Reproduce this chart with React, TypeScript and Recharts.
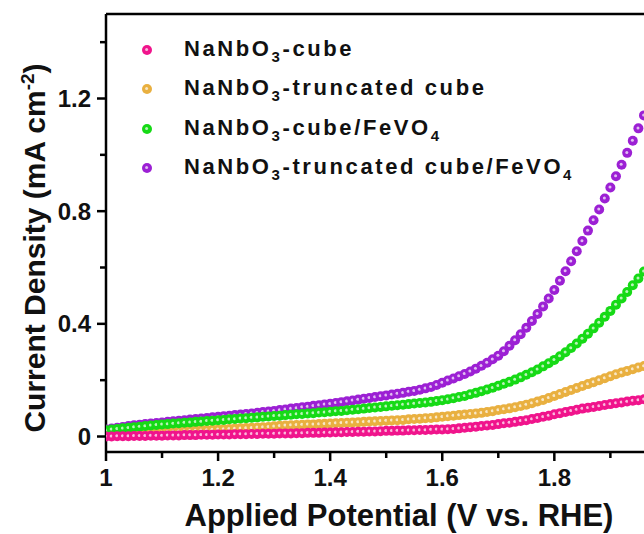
import { ScatterChart, Scatter, XAxis, YAxis, ReferenceLine, Label } from 'recharts'

// applied potential (V vs. RHE)
const potential = [
  1.00, 1.01, 1.02, 1.03, 1.04, 1.05, 1.06, 1.07, 1.08, 1.09,
  1.10, 1.11, 1.12, 1.13, 1.14, 1.15, 1.16, 1.17, 1.18, 1.19,
  1.20, 1.21, 1.22, 1.23, 1.24, 1.25, 1.26, 1.27, 1.28, 1.29,
  1.30, 1.31, 1.32, 1.33, 1.34, 1.35, 1.36, 1.37, 1.38, 1.39,
  1.40, 1.41, 1.42, 1.43, 1.44, 1.45, 1.46, 1.47, 1.48, 1.49,
  1.50, 1.51, 1.52, 1.53, 1.54, 1.55, 1.56, 1.57, 1.58, 1.59,
  1.60, 1.61, 1.62, 1.63, 1.64, 1.65, 1.66, 1.67, 1.68, 1.69,
  1.70, 1.71, 1.72, 1.73, 1.74, 1.75, 1.76, 1.77, 1.78, 1.79,
  1.80, 1.81, 1.82, 1.83, 1.84, 1.85, 1.86, 1.87, 1.88, 1.89,
  1.90, 1.91, 1.92, 1.93, 1.94, 1.95, 1.96,
]

// current density (mA cm-2)
const cube = [
  0.000, 0.000, 0.001, 0.001, 0.001, 0.002, 0.002, 0.002, 0.003, 0.003,
  0.003, 0.004, 0.004, 0.004, 0.005, 0.005, 0.005, 0.006, 0.006, 0.006,
  0.007, 0.007, 0.007, 0.008, 0.008, 0.008, 0.009, 0.009, 0.010, 0.010,
  0.010, 0.011, 0.011, 0.011, 0.012, 0.012, 0.013, 0.013, 0.013, 0.014,
  0.014, 0.015, 0.015, 0.016, 0.016, 0.017, 0.017, 0.018, 0.018, 0.019,
  0.020, 0.020, 0.021, 0.021, 0.022, 0.022, 0.023, 0.023, 0.024, 0.025,
  0.025, 0.026, 0.027, 0.029, 0.031, 0.033, 0.035, 0.037, 0.039, 0.041,
  0.044, 0.047, 0.049, 0.052, 0.055, 0.058, 0.062, 0.066, 0.070, 0.074,
  0.079, 0.083, 0.087, 0.091, 0.095, 0.099, 0.102, 0.105, 0.108, 0.112,
  0.115, 0.118, 0.121, 0.124, 0.127, 0.129, 0.132,
]

const truncCube = [
  0.004, 0.006, 0.007, 0.008, 0.009, 0.010, 0.011, 0.012, 0.013, 0.014,
  0.015, 0.016, 0.017, 0.018, 0.019, 0.020, 0.021, 0.022, 0.023, 0.024,
  0.025, 0.026, 0.027, 0.028, 0.029, 0.030, 0.031, 0.032, 0.033, 0.034,
  0.036, 0.038, 0.039, 0.040, 0.041, 0.042, 0.043, 0.043, 0.044, 0.045,
  0.046, 0.047, 0.048, 0.049, 0.050, 0.051, 0.052, 0.053, 0.054, 0.055,
  0.056, 0.057, 0.058, 0.059, 0.061, 0.062, 0.063, 0.065, 0.066, 0.068,
  0.070, 0.072, 0.074, 0.076, 0.078, 0.080, 0.082, 0.084, 0.087, 0.090,
  0.094, 0.097, 0.100, 0.104, 0.108, 0.113, 0.118, 0.124, 0.130, 0.137,
  0.144, 0.151, 0.158, 0.165, 0.172, 0.179, 0.186, 0.193, 0.200, 0.207,
  0.214, 0.221, 0.227, 0.233, 0.239, 0.245, 0.250,
]

const cubeFeVO4 = [
  0.022, 0.025, 0.027, 0.029, 0.031, 0.033, 0.035, 0.037, 0.039, 0.041,
  0.043, 0.044, 0.046, 0.047, 0.049, 0.050, 0.052, 0.053, 0.055, 0.056,
  0.058, 0.059, 0.061, 0.062, 0.064, 0.065, 0.067, 0.068, 0.070, 0.071,
  0.073, 0.074, 0.076, 0.077, 0.079, 0.080, 0.082, 0.083, 0.085, 0.086,
  0.088, 0.090, 0.091, 0.093, 0.095, 0.097, 0.099, 0.101, 0.103, 0.105,
  0.107, 0.109, 0.111, 0.113, 0.115, 0.117, 0.119, 0.121, 0.123, 0.126,
  0.129, 0.132, 0.136, 0.140, 0.144, 0.150, 0.155, 0.161, 0.167, 0.173,
  0.180, 0.187, 0.194, 0.202, 0.210, 0.219, 0.228, 0.238, 0.249, 0.260,
  0.272, 0.285, 0.299, 0.314, 0.330, 0.347, 0.365, 0.384, 0.404, 0.425,
  0.446, 0.468, 0.490, 0.513, 0.537, 0.561, 0.586,
]

const truncCubeFeVO4 = [
  0.025, 0.028, 0.031, 0.034, 0.037, 0.040, 0.042, 0.044, 0.046, 0.048,
  0.050, 0.052, 0.054, 0.056, 0.058, 0.060, 0.062, 0.064, 0.066, 0.068,
  0.070, 0.072, 0.074, 0.076, 0.078, 0.080, 0.082, 0.084, 0.087, 0.089,
  0.091, 0.094, 0.096, 0.099, 0.101, 0.104, 0.106, 0.109, 0.111, 0.114,
  0.116, 0.119, 0.122, 0.125, 0.128, 0.131, 0.134, 0.137, 0.140, 0.143,
  0.146, 0.149, 0.152, 0.155, 0.159, 0.162, 0.166, 0.171, 0.176, 0.183,
  0.191, 0.199, 0.206, 0.214, 0.222, 0.231, 0.241, 0.251, 0.262, 0.274,
  0.287, 0.303, 0.322, 0.342, 0.363, 0.386, 0.410, 0.435, 0.462, 0.490,
  0.520, 0.553, 0.587, 0.622, 0.658, 0.694, 0.731, 0.768, 0.806, 0.845,
  0.884, 0.924, 0.965, 1.007, 1.050, 1.094, 1.140,
]

const xTicks = [1.0, 1.1, 1.2, 1.3, 1.4, 1.5, 1.6, 1.7, 1.8, 1.9]
const yTicks = [0, 0.2, 0.4, 0.6, 0.8, 1.0, 1.2, 1.4]

const colors = {
  cube: '#F0148C',
  truncCube: '#E9B040',
  cubeFeVO4: '#16DA16',
  truncCubeFeVO4: '#9C20D4',
}

// legend order as in the figure, label split for the subscripts
const legendItems = [
  { color: colors.cube, parts: [['NaNbO', ''], ['3', 'sub'], ['-cube', '']] },
  { color: colors.truncCube, parts: [['NaNbO', ''], ['3', 'sub'], ['-truncated cube', '']] },
  { color: colors.cubeFeVO4, parts: [['NaNbO', ''], ['3', 'sub'], ['-cube/FeVO', ''], ['4', 'sub']] },
  { color: colors.truncCubeFeVO4, parts: [['NaNbO', ''], ['3', 'sub'], ['-truncated cube/FeVO', ''], ['4', 'sub']] },
]

const FONT = '"Liberation Sans", Arial, sans-serif'

const toPoints = (vals: number[]) => potential.map((x, i) => ({ x, y: vals[i] }))

const Dot = (color: string) => (props: any) => {
  const { cx, cy } = props
  if (cx == null || cy == null) return <g />
  return (
    <g>
      <circle cx={cx} cy={cy} r={5} fill={color} />
      <circle cx={cx - 0.4} cy={cy - 0.4} r={1.5} fill="#fff" fillOpacity={0.7} />
    </g>
  )
}

const XTick = (props: any) => {
  const { x, y, payload } = props
  const v = payload.value
  const major = Math.round(v * 10) % 2 === 0
  return (
    <g>
      <line x1={x} x2={x} y1={y} y2={y + (major ? 9 : 6)} stroke="#000" strokeWidth={2.5} />
      {major && (
        <text x={x} y={y + 34} textAnchor="middle" fontFamily={FONT} fontWeight="bold" fontSize={24} fill="#111">
          {v === 1 ? '1' : v.toFixed(1)}
        </text>
      )}
    </g>
  )
}

const YTick = (props: any) => {
  const { x, y, payload } = props
  const v = payload.value
  const major = Math.round(v * 10) % 4 === 0
  return (
    <g>
      <line x1={x} x2={x - (major ? 9 : 6)} y1={y} y2={y} stroke="#000" strokeWidth={2.5} />
      {major && (
        <text x={x - 15} y={y + 8.5} textAnchor="end" fontFamily={FONT} fontWeight="bold" fontSize={24} fill="#111">
          {v === 0 ? '0' : v.toFixed(1)}
        </text>
      )}
    </g>
  )
}

const LegendBox = () => (
  <div
    style={{
      position: 'absolute',
      left: 141,
      top: 30,
      fontFamily: FONT,
      fontWeight: 'bold',
      fontSize: 22,
      color: '#111',
      pointerEvents: 'none',
    }}
  >
    {legendItems.map((item, i) => (
      <div key={i} style={{ display: 'flex', alignItems: 'center', height: 39.5, lineHeight: '22px' }}>
        <svg width={12} height={12} style={{ marginRight: 31 }}>
          <circle cx={6} cy={6} r={5} fill={item.color} />
          <circle cx={5.6} cy={5.6} r={1.5} fill="#fff" fillOpacity={0.7} />
        </svg>
        <span style={{ letterSpacing: 2.6, whiteSpace: 'nowrap' }}>
          {item.parts.map(([t, kind], j) =>
            kind === 'sub' ? (
              <span key={j} style={{ fontSize: 15, position: 'relative', top: 6 }}>{t}</span>
            ) : (
              <span key={j}>{t}</span>
            )
          )}
        </span>
      </div>
    ))}
  </div>
)

const YTitle = () => (
  <text
    x={45}
    y={248}
    transform="rotate(-90 45 248)"
    textAnchor="middle"
    fontFamily={FONT}
    fontWeight="bold"
    fontSize={30}
    fill="#111"
  >
    Current Density (mA cm
    <tspan fontSize={19} dy={-11}>-2</tspan>
    <tspan dy={11}>)</tspan>
  </text>
)

const XTitle = () => (
  <text x={399} y={526} textAnchor="middle" fontFamily={FONT} fontWeight="bold" fontSize={31} fill="#111">
    Applied Potential (V vs. RHE)
  </text>
)

export default function App() {
  return (
    <div style={{ position: 'absolute', left: 0, top: 0, width: 644, height: 534, background: '#fff', overflow: 'hidden' }}>
      <ScatterChart width={644} height={534} margin={{ top: 14, right: 0, bottom: 0, left: 0 }}>
        <XAxis
          type="number"
          dataKey="x"
          domain={[1, 1.96]}
          allowDataOverflow
          ticks={xTicks}
          interval={0}
          height={82}
          tickSize={0}
          tickMargin={0}
          tickLine={false}
          axisLine={{ stroke: '#000', strokeWidth: 2.5 }}
          tick={XTick}
        >
          <Label content={XTitle} />
        </XAxis>
        <YAxis
          type="number"
          dataKey="y"
          domain={[-0.055, 1.5]}
          allowDataOverflow
          ticks={yTicks}
          interval={0}
          width={106}
          tickSize={0}
          tickMargin={0}
          tickLine={false}
          axisLine={{ stroke: '#000', strokeWidth: 2.5 }}
          tick={YTick}
        >
          <Label content={YTitle} />
        </YAxis>
        <ReferenceLine y={1.5} stroke="#000" strokeWidth={2.5} />
        <Scatter name="NaNbO3-truncated cube/FeVO4" data={toPoints(truncCubeFeVO4)} shape={Dot(colors.truncCubeFeVO4)} isAnimationActive={false} />
        <Scatter name="NaNbO3-truncated cube" data={toPoints(truncCube)} shape={Dot(colors.truncCube)} isAnimationActive={false} />
        <Scatter name="NaNbO3-cube/FeVO4" data={toPoints(cubeFeVO4)} shape={Dot(colors.cubeFeVO4)} isAnimationActive={false} />
        <Scatter name="NaNbO3-cube" data={toPoints(cube)} shape={Dot(colors.cube)} isAnimationActive={false} />
      </ScatterChart>
      <LegendBox />
    </div>
  )
}
